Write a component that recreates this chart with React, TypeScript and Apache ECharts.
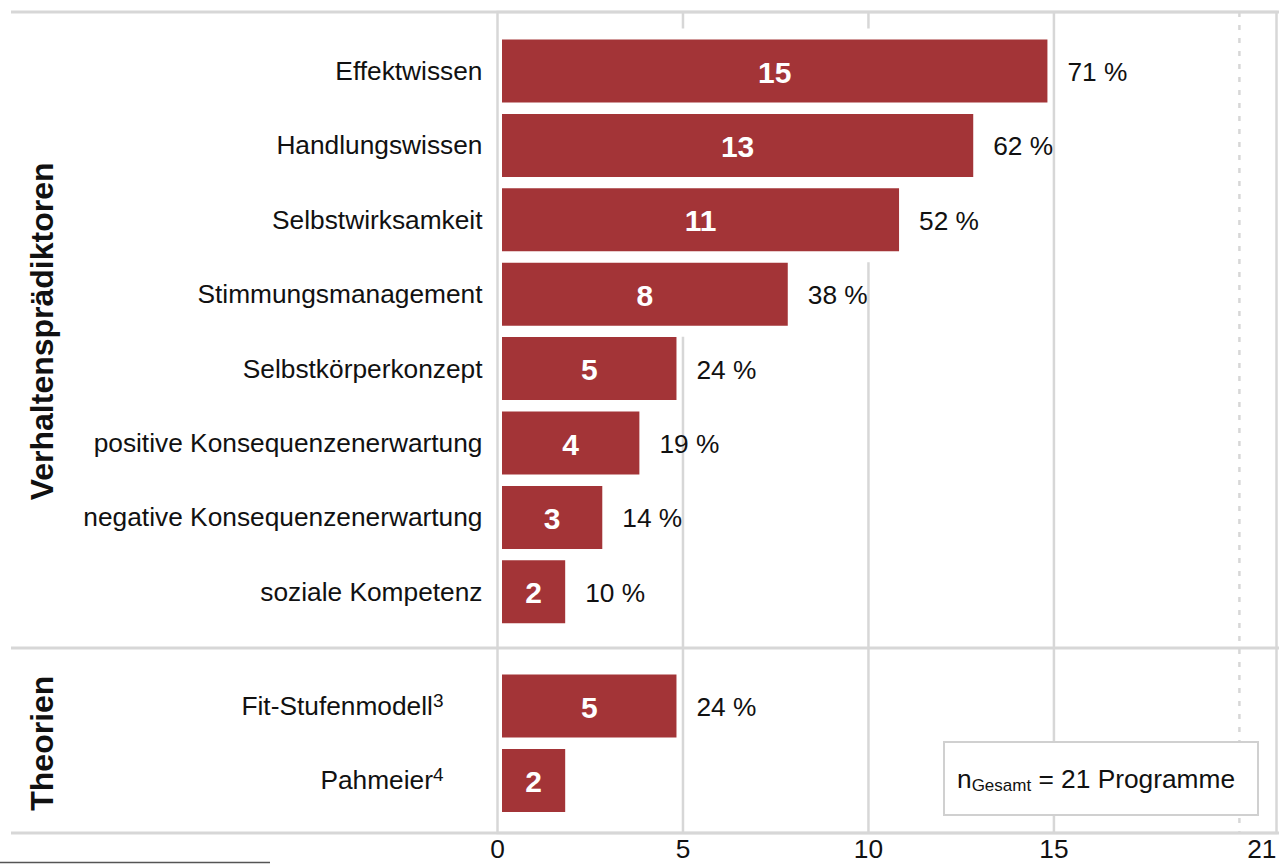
import React, { useEffect, useRef } from 'react';
import * as echarts from 'echarts';

// ---------- data ----------
const predictorCategories = [
  'Effektwissen',
  'Handlungswissen',
  'Selbstwirksamkeit',
  'Stimmungsmanagement',
  'Selbstkörperkonzept',
  'positive Konsequenzenerwartung',
  'negative Konsequenzenerwartung',
  'soziale Kompetenz',
];
const predictorCounts = [15, 13, 11, 8, 5, 4, 3, 2];
const predictorPercents = ['71 %', '62 %', '52 %', '38 %', '24 %', '19 %', '14 %', '10 %'];

const theoryCategories = ['Fit-Stufenmodell', 'Pahmeier'];
const theoryFootnotes = ['3', '4'];
const theoryCounts = [5, 2];
const theoryPercents = ['24 %', ''];

const panelNames = ['Verhaltensprädiktoren', 'Theorien'];
const xMin = 0;
const xMax = 21;
const xInterval = 5;
const solidGridValues = [5, 10, 15];
const dashedGridValues = [20];
const hiddenTickLabels = [20];
const noteParts = ['n', 'Gesamt', ' = 21 Programme'];

// ---------- style ----------
const FONT = "'Liberation Sans', Arial, Helvetica, sans-serif";
const BAR = '#a33437';
const LINE = '#d7d7d7';
const TEXT = '#111111';
const LEFT = 497.5;
const WIDTH = 779;
const LABEL_SIZE = 26.3;

function makeBarRender(percents: string[]) {
  return (params: any, api: any) => {
    const v = api.value(0);
    const c = api.value(1);
    const p0 = api.coord([0, c]);
    const p1 = api.coord([v, c]);
    const x0 = p0[0] + 4.5;
    const x1 = p1[0] - 6.5;
    const cy = p0[1];
    const h = 63;
    return {
      type: 'group',
      children: [
        {
          type: 'rect',
          shape: { x: x0, y: cy - h / 2, width: x1 - x0, height: h },
          style: { fill: BAR },
        },
        {
          type: 'text',
          style: {
            text: String(v),
            x: (x0 + x1) / 2,
            y: cy + 1,
            align: 'center',
            verticalAlign: 'middle',
            fill: '#ffffff',
            fontSize: 30,
            fontWeight: 'bold',
            fontFamily: FONT,
          },
        },
        {
          type: 'text',
          style: {
            text: percents[params.dataIndex],
            x: x1 + 20,
            y: cy + 1,
            align: 'left',
            verticalAlign: 'middle',
            fill: TEXT,
            fontSize: LABEL_SIZE,
            fontFamily: FONT,
          },
        },
      ],
    };
  };
}

function backingRender(params: any, api: any) {
  const v = api.value(0);
  const c = api.value(1);
  const p0 = api.coord([0, c]);
  const p1 = api.coord([v, c]);
  const x0 = p0[0] + 4.5;
  const x1 = p1[0] - 6.5;
  const cy = p0[1];
  return {
    type: 'rect',
    shape: { x: x0, y: cy - 42.5, width: x1 - x0, height: 85 },
    style: { fill: '#ffffff' },
  };
}

function gridLineRender(params: any, api: any) {
  const v = api.value(0);
  const top = api.coord([v, 1]);
  const bot = api.coord([v, 0]);
  const dashed = dashedGridValues.indexOf(v) >= 0;
  return {
    type: 'line',
    shape: { x1: top[0], y1: top[1], x2: bot[0], y2: bot[1] },
    style: { stroke: LINE, lineWidth: 2.5, lineDash: dashed ? [5, 8] : null },
  };
}

const categoryLabel = { fontSize: LABEL_SIZE, color: TEXT, fontFamily: FONT, margin: 15 };
const panelNameStyle = { fontSize: 32, fontWeight: 'bold', color: TEXT, fontFamily: FONT };

export default function App() {
  const ref = useRef<HTMLDivElement>(null);

  useEffect(() => {
    if (!ref.current) return;
    const chart = echarts.init(ref.current, null, { renderer: 'svg' });

    const option: any = {
      animation: false,
      backgroundColor: '#ffffff',
      grid: [
        { left: LEFT, top: 12, width: WIDTH, height: 821, show: true, borderColor: LINE, borderWidth: 2.5, backgroundColor: 'transparent' },
        { left: LEFT, top: 33.8, width: WIDTH, height: 595.2 },
        { left: LEFT, top: 668.8, width: WIDTH, height: 148.8 },
      ],
      xAxis: [
        {
          gridIndex: 0,
          type: 'value',
          min: xMin,
          max: xMax,
          interval: xInterval,
          axisLine: { show: false },
          axisTick: { show: false },
          splitLine: { show: false },
          axisLabel: {
            fontSize: LABEL_SIZE,
            lineHeight: 24,
            color: TEXT,
            fontFamily: FONT,
            margin: 4,
            showMaxLabel: true,
            alignMaxLabel: 'right',
            formatter: (v: number) => (hiddenTickLabels.indexOf(v) >= 0 ? '' : String(v)),
          },
        },
        { gridIndex: 1, type: 'value', min: xMin, max: xMax, show: false },
        { gridIndex: 2, type: 'value', min: xMin, max: xMax, show: false },
      ],
      yAxis: [
        { gridIndex: 0, type: 'value', min: 0, max: 1, show: false },
        {
          gridIndex: 1,
          type: 'category',
          inverse: true,
          data: predictorCategories,
          axisLine: { show: false },
          axisTick: { show: false },
          splitLine: { show: false },
          axisLabel: categoryLabel,
          name: panelNames[0],
          nameLocation: 'middle',
          nameRotate: 90,
          nameGap: 440,
          nameTextStyle: panelNameStyle,
        },
        {
          gridIndex: 2,
          type: 'category',
          inverse: true,
          data: theoryCategories,
          axisLine: { show: false },
          axisTick: { show: false },
          splitLine: { show: false },
          axisLabel: {
            margin: 15,
            formatter: (val: string, idx: number) => `{t|${val}}{s|${theoryFootnotes[idx]}}{p|}`,
            rich: {
              t: { fontSize: LABEL_SIZE, color: TEXT, fontFamily: FONT, lineHeight: 30 },
              s: { fontSize: 19, color: TEXT, fontFamily: FONT, lineHeight: 19, verticalAlign: 'top' },
              p: { width: 39 },
            },
          },
          name: panelNames[1],
          nameLocation: 'middle',
          nameRotate: 90,
          nameGap: 440,
          nameTextStyle: panelNameStyle,
        },
      ],
      series: [
        {
          type: 'custom',
          xAxisIndex: 0,
          yAxisIndex: 0,
          z: 1,
          silent: true,
          clip: false,
          data: solidGridValues.concat(dashedGridValues).map((v) => [v, 0]),
          renderItem: gridLineRender,
        },
        {
          type: 'custom',
          xAxisIndex: 1,
          yAxisIndex: 1,
          z: 2,
          silent: true,
          clip: false,
          data: predictorCounts.map((v, i) => [v, i]),
          renderItem: backingRender,
        },
        {
          type: 'custom',
          xAxisIndex: 1,
          yAxisIndex: 1,
          z: 3,
          silent: true,
          clip: false,
          data: predictorCounts.map((v, i) => [v, i]),
          renderItem: makeBarRender(predictorPercents),
        },
        {
          type: 'custom',
          xAxisIndex: 2,
          yAxisIndex: 2,
          z: 2,
          silent: true,
          clip: false,
          data: theoryCounts.map((v, i) => [v, i]),
          renderItem: backingRender,
        },
        {
          type: 'custom',
          xAxisIndex: 2,
          yAxisIndex: 2,
          z: 3,
          silent: true,
          clip: false,
          data: theoryCounts.map((v, i) => [v, i]),
          renderItem: makeBarRender(theoryPercents),
        },
      ],
      graphic: [
        { type: 'line', z: 5, shape: { x1: 11, y1: 12, x2: 1279, y2: 12 }, style: { stroke: LINE, lineWidth: 3 } },
        { type: 'line', z: 5, shape: { x1: 11, y1: 648, x2: 1279, y2: 648 }, style: { stroke: LINE, lineWidth: 3 } },
        { type: 'line', z: 5, shape: { x1: 11, y1: 833, x2: 1279, y2: 833 }, style: { stroke: LINE, lineWidth: 3 } },
        { type: 'line', z: 5, shape: { x1: 0, y1: 862.5, x2: 270, y2: 862.5 }, style: { stroke: '#555555', lineWidth: 1.5 } },
        {
          type: 'rect',
          z: 100,
          shape: { x: 944, y: 742, width: 314, height: 73 },
          style: { fill: '#ffffff', stroke: '#d0d0d0', lineWidth: 2 },
        },
        {
          type: 'text',
          z: 101,
          style: {
            x: 957,
            y: 779,
            align: 'left',
            verticalAlign: 'middle',
            text: `{n|${noteParts[0]}}{s|${noteParts[1]}}{n|${noteParts[2]}}`,
            rich: {
              n: { fontSize: LABEL_SIZE, fill: TEXT, fontFamily: FONT, lineHeight: 30 },
              s: { fontSize: 17, fill: TEXT, fontFamily: FONT, lineHeight: 17, verticalAlign: 'bottom' },
            },
          },
        },
      ],
    };

    chart.setOption(option);
    return () => chart.dispose();
  }, []);

  return (
    <div
      ref={ref}
      style={{ position: 'fixed', left: 0, top: 0, width: 1284, height: 864, background: '#ffffff' }}
    />
  );
}
